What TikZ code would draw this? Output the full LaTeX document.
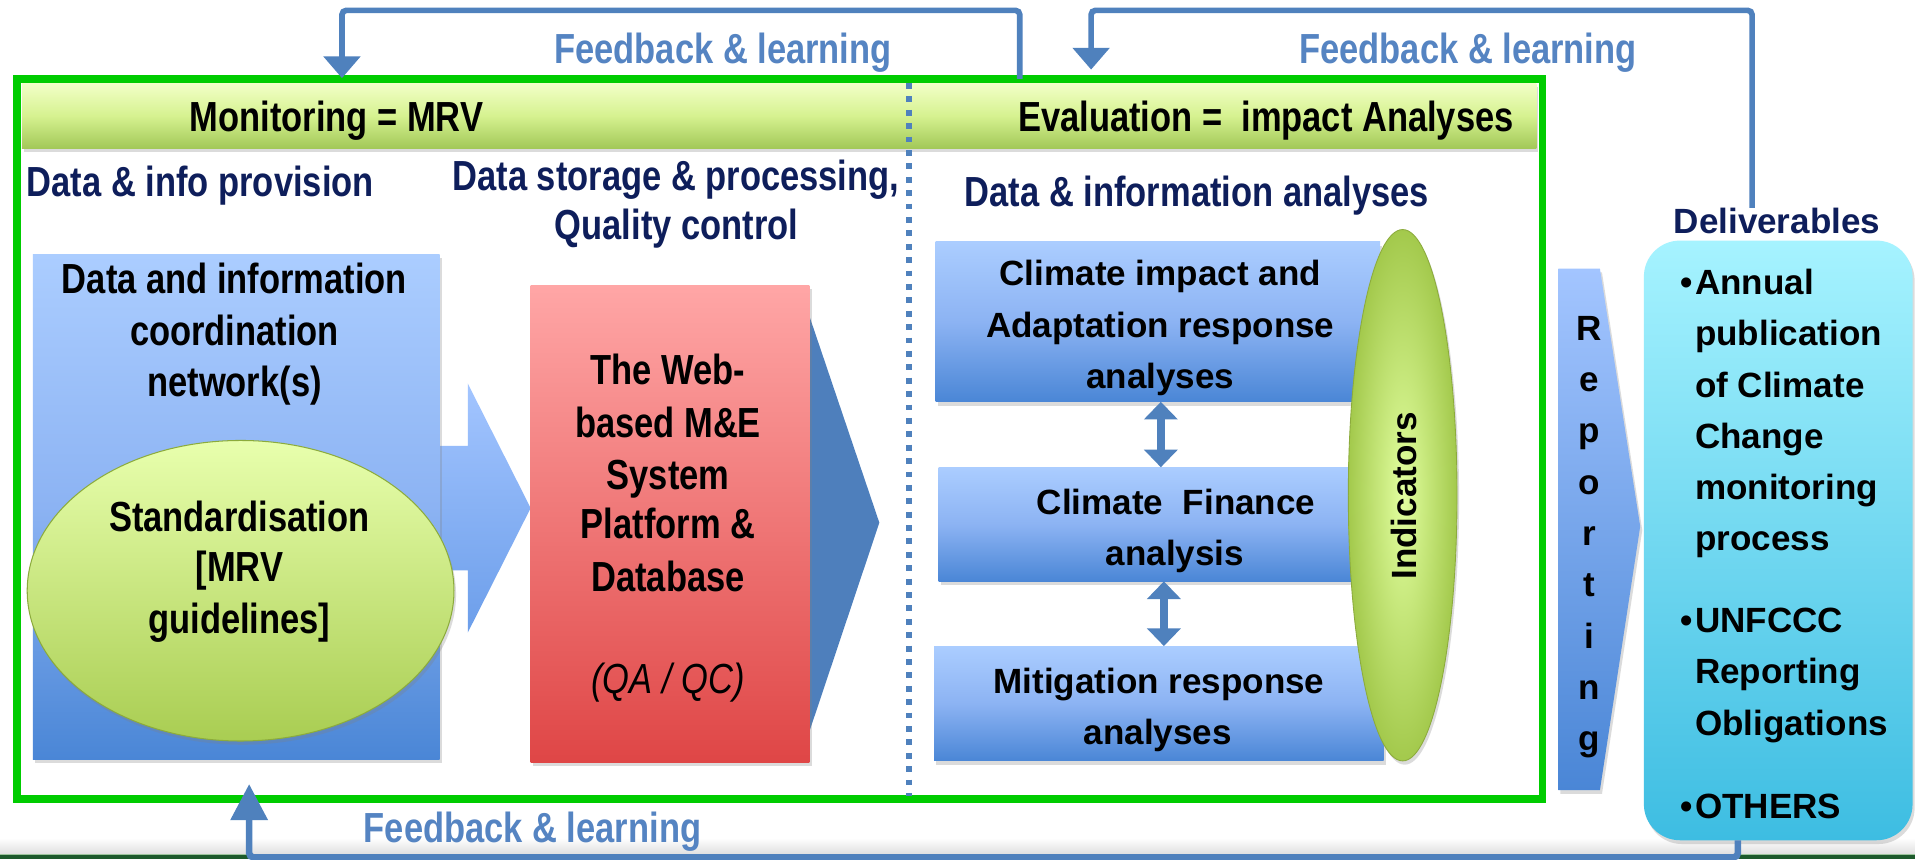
\documentclass[tikz,border=0pt]{standalone}
\usepackage{fontspec}
\setmainfont{Liberation Sans}
\newfontfamily\narrowfont{Liberation Sans}[FakeStretch=0.82]
\usetikzlibrary{arrows.meta,shadows,shapes.geometric,fit}
\definecolor{navy}{HTML}{0E1E5B}
\definecolor{fbblue}{HTML}{4F81BD}
\definecolor{fbtext}{HTML}{5584C2}
\definecolor{framegreen}{HTML}{00CC00}
\definecolor{hdrtop}{HTML}{F2FFC8}
\definecolor{hdrmid}{HTML}{D6F290}
\definecolor{hdrbot}{HTML}{A2C858}
\definecolor{bluetop}{HTML}{ABCDFF}
\definecolor{bluemid}{HTML}{8CB3F3}
\definecolor{bluebot}{HTML}{4A86D6}
\definecolor{arrtop}{HTML}{A3C5FF}
\definecolor{arrbot}{HTML}{6C9EEA}
\definecolor{limetop}{HTML}{E8FFAD}
\definecolor{limebot}{HTML}{A9CD52}
\definecolor{limeedge}{HTML}{8CAB3C}
\definecolor{indin}{HTML}{E2FFA0}
\definecolor{indout}{HTML}{A3C94C}
\definecolor{redtop}{HTML}{FFA6A6}
\definecolor{redbot}{HTML}{DF4646}
\definecolor{chevblue}{HTML}{4E7FBC}
\definecolor{cyantop}{HTML}{A6F3FF}
\definecolor{cyanbot}{HTML}{3DBDE2}
\definecolor{bardark}{HTML}{1D5A2C}
\definecolor{barlight}{HTML}{9CC49C}
\begin{document}
\begin{tikzpicture}[x=0.025cm,y=-0.025cm,
  every node/.style={inner sep=0pt,outer sep=0pt},
  nbold/.style={font=\narrowfont\bfseries\fontsize{24.5pt}{30pt}\selectfont,anchor=base},
  nital/.style={font=\narrowfont\itshape\fontsize{24.5pt}{30pt}\selectfont,anchor=base},
  wbold/.style={font=\bfseries\fontsize{20.4pt}{30pt}\selectfont,anchor=base},
  navytxt/.style={nbold,text=navy},
  fbtxt/.style={nbold,text=fbtext},
  shadowed/.style={drop shadow={shadow xshift=1.2pt,shadow yshift=-2.2pt,opacity=0.28}},
  bluegrad/.style={top color=bluetop,bottom color=bluebot,middle color=bluemid},
  fbline/.style={draw=fbblue,line width=3.3pt,rounded corners=2.5pt},
  fbarrow/.style={fbline,-{Triangle[width=21pt,length=12.7pt]}},
  fbarrowup/.style={fbline,line width=3.8pt,-{Triangle[width=21pt,length=21pt]}},
  dblarrow/.style={draw=fbblue,line width=4.3pt,{Triangle[width=19.2pt,length=10.3pt]}-{Triangle[width=19.2pt,length=10.3pt]}},
]
\useasboundingbox (0,0) rectangle (1568,703.4);
\fill[white] (0,0) rectangle (1568,703.4);
% bottom bar
\shade[top color=white,bottom color=black!12] (0,686) rectangle (1568,699);
\fill[barlight] (0,699) rectangle (1568,700.2);
\fill[bardark] (0,700.2) rectangle (1568,703.4);

% main frame
\node[fit={(14,64.5)(1263,654.5)},draw=framegreen,line width=4.5pt] (frame) {};
% header bar
\node[fit={(18,68)(1258,121.5)},top color=hdrtop,bottom color=hdrbot,middle color=hdrmid,shadowed] (header) {};
% divider
\draw[fbblue,line width=3.6pt,dash pattern=on 3.4pt off 4.4pt] (744.5,68) -- (744.5,652);

\node[nbold] (mon) at (275.5,108) {Monitoring = MRV};
\node[nbold] (eval) at (1036.5,108) {Evaluation = \ impact Analyses};

\node[navytxt] (prov) at (164,161) {Data \& info provision};
\node[navytxt] (stor) at (553.5,156) {Data storage \& processing,};
\node[navytxt] (qc) at (554,196) {Quality control};
\node[navytxt] (anal) at (980,169) {Data \& information analyses};

% big arrow from network box to platform
\path[top color=arrtop,bottom color=arrbot] (330,365) -- (383,365) -- (383,314) -- (434.5,416) -- (383,518) -- (383,467) -- (330,467) -- cycle;
% network box
\node[fit={(27,208)(360,622)},bluegrad,shadowed] (netbox) {};
\foreach \t/\yy [count=\i] in {Data and information/240,coordination/283,network(s)/325}
  \node[nbold] (net\i) at (192,\yy) {\t};
% standardisation ellipse
\node[ellipse,minimum width=248.5pt,minimum height=175pt,top color=limetop,bottom color=limebot,draw=limeedge,line width=0.6pt,shadowed] (stdell) at (197,483.7) {};
\foreach \t/\yy [count=\i] in {Standardisation/435,{[MRV}/476,{guidelines]}/519}
  \node[nbold] (std\i) at (196,\yy) {\t};

% platform chevron and box
\fill[chevblue] (655,236) -- (720,428) -- (655,622) -- cycle;
\node[fit={(434.5,233.5)(662.8,624)},top color=redtop,bottom color=redbot,shadowed] (webbox) {};
\foreach \t/\yy [count=\i] in {The Web-/315,based M\&E/358,System/401,Platform \&/441,Database/484}
  \node[nbold] (web\i) at (547,\yy) {\t};
\node[nital] (qaqc) at (547,568) {(QA / QC)};

% analysis boxes
\node[fit={(766,198)(1130,329)},bluegrad,shadowed] (box1) {};
\node[fit={(768.6,382.6)(1127,476)},bluegrad,shadowed] (box2) {};
\node[fit={(764.8,529)(1133,623)},bluegrad,shadowed] (box3) {};
\coordinate (ax1) at (950.5,0);
\coordinate (ax2) at (953,0);
\draw[dblarrow] (box1.south -| ax1) -- (box2.north -| ax1);
\draw[dblarrow] (box2.south -| ax2) -- (box3.north -| ax2);
\node[wbold] (b1a) at (950,234) {Climate impact and};
\node[wbold] (b1b) at (950,276) {Adaptation response};
\node[wbold] (b1c) at (950,318) {analyses};
\node[wbold] (b2a) at (963,421) {Climate \ Finance};
\node[wbold] (b2b) at (962,463) {analysis};
\node[wbold] (b3a) at (949,568) {Mitigation response};
\node[wbold] (b3b) at (948,609.3) {analyses};
% indicators
\node[ellipse,minimum width=63.3pt,minimum height=309.4pt,inner color=indin,outer color=indout,draw=limeedge,line width=0.5pt,shadowed] (indell) at (1148.5,405.5) {};
\node[wbold,anchor=center,rotate=90] (indtxt) at (1149.4,406) {Indicators};

% reporting arrow
\path[top color=arrtop,bottom color=bluebot,shadowed] (1276,220) -- (1310,220) -- (1343,431) -- (1310,647) -- (1276,647) -- cycle;
\foreach \t [count=\i] in {R,e,p,o,r,t,i,n,g}
  \node[wbold] (rep\i) at (1301,{278.6+42*(\i-1)}) {\t};

% deliverables
\node[wbold,text=navy] (dlabel) at (1455,191) {Deliverables};
\node[fit={(1346,197)(1566,688)},rounded corners=21pt,top color=cyantop,bottom color=cyanbot,shadowed] (deliv) {};
\foreach \t/\yy [count=\i] in {Annual/241.4,publication/283.3,of Climate/325.2,Change/367.1,monitoring/409,process/450.9,UNFCCC/518,Reporting/560,Obligations/602,OTHERS/670}
  \node[wbold,anchor=base west] (del\i) at (1388,\yy) {\t};
\foreach \yy [count=\i] in {241.4,518,670}
  \node[wbold,anchor=base east] (bul\i) at (1386,\yy) {\textbullet};

% feedback loops
\coordinate (fbL) at (835,8.5);
\coordinate (tipL) at (280,64);
\draw[fbarrow] (frame.north -| fbL) -- (fbL) -| (tipL);
\coordinate (fbR) at (1434.6,8.5);
\coordinate (tipR) at (893.4,57);
\draw[fbarrow] (dlabel.north -| fbR) -- (fbR) -| (tipR);
\coordinate (fbB) at (1423,702);
\coordinate (tipB) at (204,642);
\draw[fbarrowup] (deliv.south -| fbB) -- (fbB) -| (tipB);
\node[fbtxt] (fb1) at (592,52) {Feedback \& learning};
\node[fbtxt] (fb2) at (1202,52) {Feedback \& learning};
\node[fbtxt] (fb3) at (436,690) {Feedback \& learning};
\end{tikzpicture}
\end{document}
